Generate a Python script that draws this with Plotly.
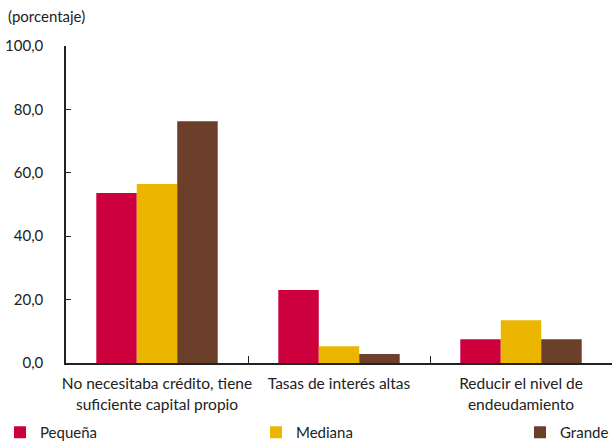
import plotly.graph_objects as go

categories = [
    "No necesitaba crédito, tiene<br>suficiente capital propio",
    "Tasas de interés altas",
    "Reducir el nivel de<br>endeudamiento",
]
pequena = [53.6, 23.0, 7.5]
mediana = [56.5, 5.3, 13.5]
grande = [76.3, 2.8, 7.5]
series_names = ["Pequeña", "Mediana", "Grande"]
series_colors = ["#CC003D", "#ECB500", "#6B3F29"]
y_ticks = [0, 20, 40, 60, 80, 100]

FONT = "Lato"
W, H = 613, 442
MARGIN = dict(l=66, r=1, t=46, b=79)
plot_h = H - MARGIN["t"] - MARGIN["b"]

# one legend per series, spread along the bottom edge
legend_ids = ["legend", "legend2", "legend3"]
legend_px = [-8, 256, 520]
legend_bottom_px = H + 7

fig = go.Figure()
for name, vals, col, lg in zip(series_names, [pequena, mediana, grande],
                               series_colors, legend_ids):
    fig.add_trace(go.Bar(x=categories, y=vals, name=name, legend=lg,
                         marker=dict(color=col, line=dict(width=0))))

legend_common = dict(orientation="h", xref="container", yref="paper",
                     xanchor="left",
                     y=-(legend_bottom_px - (H - MARGIN["b"])) / plot_h,
                     yanchor="bottom",
                     font=dict(size=15, family=FONT), itemclick=False,
                     bgcolor="rgba(0,0,0,0)")

fig.update_layout(
    width=W, height=H,
    margin=dict(MARGIN, autoexpand=False),
    paper_bgcolor="white", plot_bgcolor="white",
    barmode="group", bargap=0.333, bargroupgap=0,
    separators=",.",
    font=dict(family=FONT, size=15, color="#222222"),
    title=dict(text="(porcentaje)", x=8 / W, xanchor="left",
               y=1 - 17 / H, yanchor="middle", font=dict(size=15, family=FONT)),
    showlegend=True,
)
for lg, px in zip(legend_ids, legend_px):
    fig.update_layout({lg: dict(legend_common, x=px / W)})

fig.update_xaxes(
    showline=True, linecolor="#222222", linewidth=1.5,
    ticks="inside", tickson="boundaries", ticklen=7, tickcolor="#222222",
    tickwidth=1.2, showgrid=False, ticklabelstandoff=6, tickangle=0,
    automargin=False,
    tickfont=dict(size=15.5, family=FONT),
)
fig.update_yaxes(
    range=[0, 100], tickvals=y_ticks, tickformat=".1f",
    showline=True, linecolor="#222222", linewidth=1.5,
    ticks="inside", ticklen=5, tickcolor="#222222", tickwidth=1.2,
    showgrid=False, zeroline=False, ticklabelstandoff=18, automargin=False,
    tickfont=dict(size=15, family=FONT),
)
fig.write_html("out.html")
